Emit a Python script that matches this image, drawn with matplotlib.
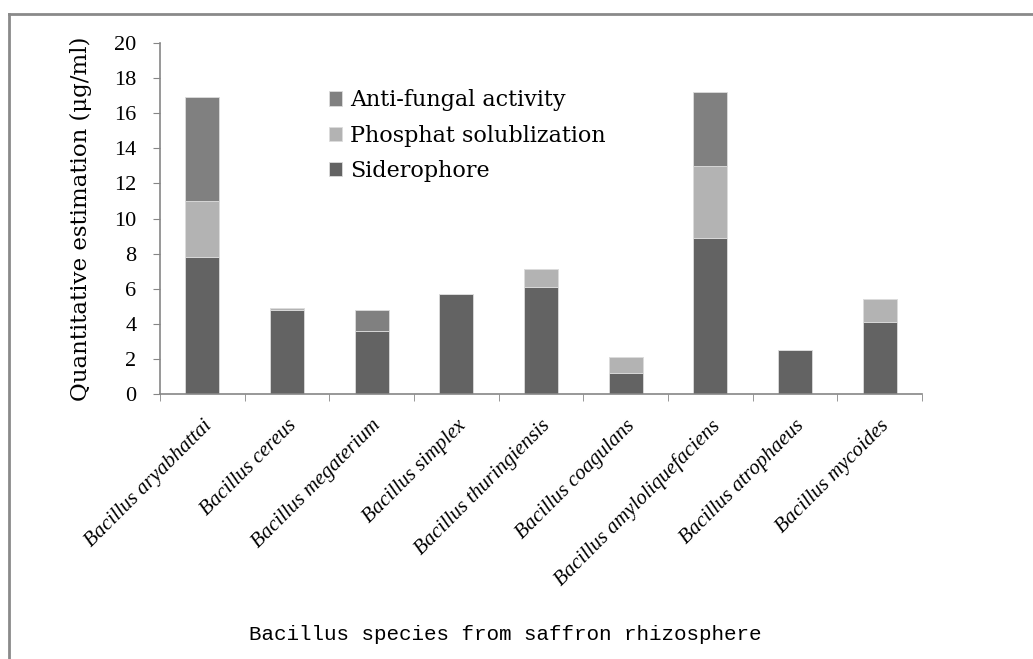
import matplotlib
matplotlib.use("Agg")
import matplotlib.pyplot as plt
from matplotlib.lines import Line2D
import numpy as np

categories = ["Bacillus aryabhattai", "Bacillus cereus", "Bacillus megaterium",
              "Bacillus simplex", "Bacillus thuringiensis", "Bacillus coagulans",
              "Bacillus amyloliquefaciens", "Bacillus atrophaeus", "Bacillus mycoides"]
siderophore = [7.8, 4.8, 3.6, 5.7, 6.1, 1.2, 8.9, 2.5, 4.1]
phosphat = [3.2, 0.1, 0.0, 0.0, 1.0, 0.9, 4.1, 0.0, 1.3]
antifungal = [5.9, 0.0, 1.2, 0.0, 0.0, 0.0, 4.2, 0.0, 0.0]
yticks = list(range(0, 21, 2))

W, H = 1033, 659
fig = plt.figure(figsize=(W / 100, H / 100), dpi=100)
ax = fig.add_axes([160 / W, 1 - 394 / H, (922 - 160) / W, (394 - 43) / H])

x = np.arange(len(categories))
c_sid, c_pho, c_ant = "#636363", "#b3b3b3", "#808080"
edge = "#dcdcdc"
b1 = ax.bar(x, siderophore, 0.4, color=c_sid, edgecolor=edge, linewidth=0.6, label="Siderophore")
bottom2 = np.array(siderophore)
b2 = ax.bar(x, phosphat, 0.4, bottom=bottom2, color=c_pho, edgecolor=edge, linewidth=0.6,
            label="Phosphat solublization")
bottom3 = bottom2 + np.array(phosphat)
b3 = ax.bar(x, antifungal, 0.4, bottom=bottom3, color=c_ant, edgecolor=edge, linewidth=0.6,
            label="Anti-fungal activity")

ax.set_xlim(-0.5, len(categories) - 0.5)
ax.set_ylim(0, 20)
ax.set_yticks(yticks)
ax.set_yticklabels([str(v) for v in yticks], fontfamily="Liberation Serif", fontsize=16)
ax.set_xticks(x)
ax.set_xticklabels(categories, rotation=45, ha="right", rotation_mode="anchor",
                   fontstyle="italic", fontfamily="Liberation Serif", fontsize=15)
ax.set_xticks(np.arange(-0.5, len(categories)), minor=True)
ax.tick_params(axis="x", which="major", length=0, pad=16)
ax.tick_params(axis="x", which="minor", length=5, color="#868686", direction="out")
ax.tick_params(axis="y", length=5, color="#868686", direction="out", pad=12)

for s in ["top", "right"]:
    ax.spines[s].set_visible(False)
for s in ["left", "bottom"]:
    ax.spines[s].set_color("#868686")
    ax.spines[s].set_linewidth(1.2)

ax.set_ylabel("Quantitative estimation (\u03bcg/ml)", fontfamily="DejaVu Serif", fontsize=16.5,
              labelpad=16)
fig.text(505 / W, 1 - 634 / H, "Bacillus species from saffron rhizosphere",
         fontfamily="Liberation Mono", fontsize=15, ha="center", va="center")

leg = ax.legend(handles=[b3, b2, b1], loc="upper left", bbox_to_anchor=(0.195, 0.925),
                frameon=False, prop={"family": "DejaVu Serif", "size": 16},
                handlelength=0.6, handleheight=0.6, handletextpad=0.35, labelspacing=0.6)

fig.add_artist(Line2D([9 / W, 9 / W], [0, 1 - 14 / H], transform=fig.transFigure,
                      color="#8a8a8a", linewidth=2))
fig.add_artist(Line2D([9 / W, 1], [1 - 14 / H, 1 - 14 / H], transform=fig.transFigure,
                      color="#8a8a8a", linewidth=2))

fig.savefig("out.png", dpi=100)
